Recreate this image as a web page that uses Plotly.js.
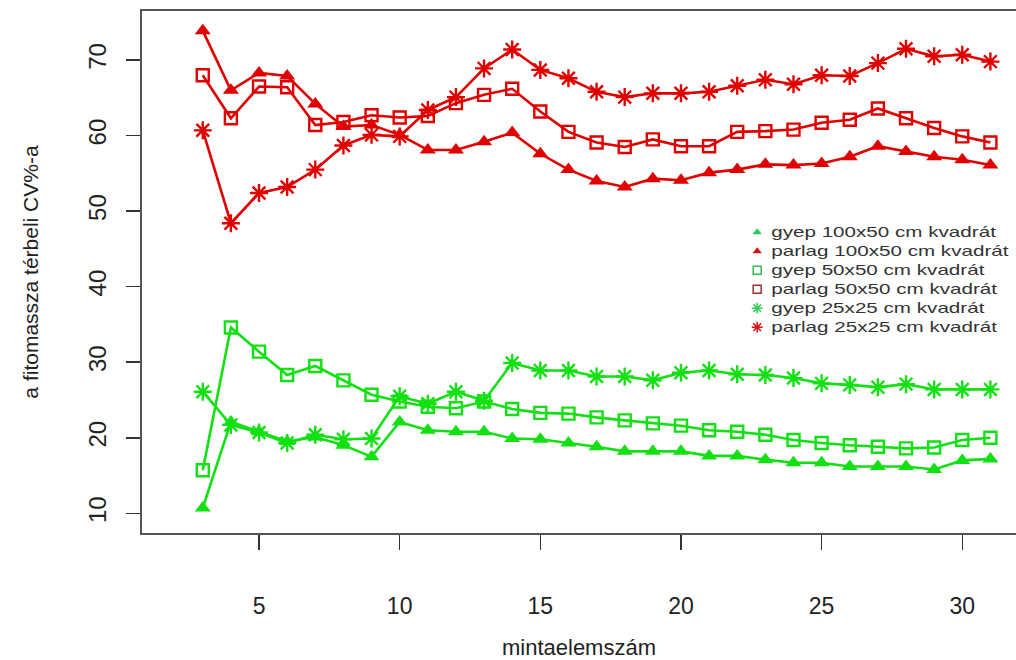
<!DOCTYPE html>
<html>
<head>
<meta charset="utf-8">
<script src="https://cdn.plot.ly/plotly-3.0.1.min.js"></script>
<style>html,body{margin:0;padding:0;background:#fff;}#chart{width:1016px;height:660px;}</style>
</head>
<body>
<div id="chart"></div>
<script>
const mintaelemszam = [3,4,5,6,7,8,9,10,11,12,13,14,15,16,17,18,19,20,21,22,23,24,25,26,27,28,29,30,31];

const gyep100x50   = [10.7,22.1,20.8,19.5,20.1,19.0,17.5,22.1,21.0,20.8,20.8,19.9,19.8,19.3,18.8,18.2,18.2,18.2,17.6,17.6,17.1,16.7,16.7,16.2,16.2,16.2,15.8,17.0,17.2];
const parlag100x50 = [73.9,66.0,68.3,67.9,64.2,61.2,61.4,60.1,58.1,58.1,59.2,60.4,57.6,55.5,54.0,53.2,54.3,54.1,55.1,55.5,56.2,56.1,56.3,57.2,58.6,57.9,57.2,56.8,56.1];
const gyep50x50    = [15.7,34.6,31.4,28.3,29.5,27.6,25.7,24.8,24.1,23.9,24.8,23.8,23.3,23.2,22.7,22.3,21.9,21.6,21.0,20.8,20.4,19.7,19.3,19.0,18.8,18.6,18.7,19.7,20.0];
const parlag50x50  = [68.0,62.3,66.5,66.4,61.4,61.8,62.7,62.4,62.6,64.3,65.4,66.2,63.2,60.5,59.1,58.5,59.5,58.6,58.6,60.5,60.6,60.8,61.7,62.1,63.6,62.3,61.0,59.9,59.1];
const gyep25x25    = [26.1,21.7,20.7,19.3,20.4,19.8,19.9,25.5,24.5,26.1,24.9,29.9,28.9,28.9,28.1,28.1,27.6,28.6,28.9,28.4,28.3,27.9,27.2,27.0,26.7,27.1,26.4,26.4,26.4];
const parlag25x25  = [60.7,48.4,52.4,53.2,55.5,58.7,60.1,59.9,63.4,65.1,68.9,71.4,68.7,67.6,65.8,65.1,65.6,65.6,65.8,66.6,67.4,66.8,68.0,67.9,69.6,71.5,70.5,70.7,69.8];

const seriesNames = ["gyep 100x50 cm kvadrát","parlag 100x50 cm kvadrát","gyep 50x50 cm kvadrát","parlag 50x50 cm kvadrát","gyep 25x25 cm kvadrát","parlag 25x25 cm kvadrát"];
const xTicks = [5,10,15,20,25,30];
const yTicks = [10,20,30,40,50,60,70];
const xTitle = "mintaelemszám";
const yTitle = "a fitomassza térbeli CV%-a";

const GREEN = "#12e012";
const RED = "#e00000";

const seriesData = [gyep100x50, parlag100x50, gyep50x50, parlag50x50, gyep25x25, parlag25x25];
const colors = [GREEN, RED, GREEN, RED, GREEN, RED];
const symbols = ["triangle-up","triangle-up","square-open","square-open","asterisk-open","asterisk-open"];
const sizes = [14,14,12,12,15,15];
const legSizes = [8,8,8,8,9,9];
const legColors = ["#22cc55","#d01010","#33bb55","#a03030","#33cc55","#e01010"];

const traces = [];
seriesData.forEach((ys, i) => {
  const isOpen = symbols[i] !== "triangle-up";
  traces.push({
    x: mintaelemszam, y: ys, type: "scatter", mode: "lines+markers",
    name: seriesNames[i], showlegend: false,
    line: {color: colors[i], width: 2.6},
    marker: {symbol: symbols[i], size: sizes[i], color: colors[i],
             line: {color: colors[i], width: isOpen ? 2.4 : 0}}
  });
});
seriesData.forEach((ys, i) => {
  const isOpen = symbols[i] !== "triangle-up";
  traces.push({
    x: [null], y: [null], type: "scatter", mode: "markers",
    name: seriesNames[i], showlegend: true,
    marker: {symbol: symbols[i], size: legSizes[i], color: legColors[i],
             line: {color: legColors[i], width: isOpen ? 1.5 : 0}}
  });
});

const layout = {
  width: 1016, height: 660,
  margin: {l: 142, r: 0, t: 11, b: 127},
  paper_bgcolor: "#fff", plot_bgcolor: "#fff",
  font: {family: "Liberation Sans, Arial, sans-serif", color: "#222"},
  showlegend: true,
  legend: {x: 0.681, y: 0.604, xanchor: "left", yanchor: "top",
           bgcolor: "rgba(0,0,0,0)", font: {size: 12, color: "#333"},
           tracegroupgap: 0, itemwidth: 30},
  xaxis: {
    range: [0.84, 31.91], tickmode: "array", tickvals: xTicks, ticktext: xTicks.map(String),
    showgrid: false, zeroline: false, showline: true, mirror: true,
    linecolor: "#555", linewidth: 2,
    ticks: "outside", ticklen: 15, tickwidth: 1.5, tickcolor: "#333",
    ticklabelstandoff: 36,
    tickfont: {size: 23, color: "#222"},
    title: {text: xTitle, font: {size: 22, color: "#222"}, standoff: 30}
  },
  yaxis: {
    range: [7.39, 76.5], tickmode: "array", tickvals: yTicks, ticktext: yTicks.map(String),
    showgrid: false, zeroline: false, showline: true, mirror: false,
    linecolor: "#555", linewidth: 2,
    ticks: "outside", ticklen: 14, tickwidth: 1.5, tickcolor: "#333",
    tickangle: -90, ticklabelstandoff: 10,
    tickfont: {size: 24, color: "#222"},
    title: {text: yTitle, font: {size: 21, color: "#222"}, standoff: 40}
  }
};

Plotly.newPlot("chart", traces, layout, {displayModeBar: false, staticPlot: true}).then(gd => {
  // the reference legend text is drawn wide: stretch legend labels horizontally
  const sb = gd.querySelector('.legend .scrollbox');
  if (sb) sb.removeAttribute('clip-path');
  const lg = gd.querySelector('.legend');
  if (lg) lg.removeAttribute('clip-path');
  gd.querySelectorAll('.legend .legendtext').forEach(t => {
    const x = parseFloat(t.getAttribute('x')) || 0;
    const y = parseFloat(t.getAttribute('y')) || 0;
    const sx = 1.72, sy = 1.2, targetX = 34;
    t.setAttribute('transform', `matrix(${sx},0,0,${sy},${targetX - sx * x},${y - sy * y})`);
  });
});
</script>
</body>
</html>
